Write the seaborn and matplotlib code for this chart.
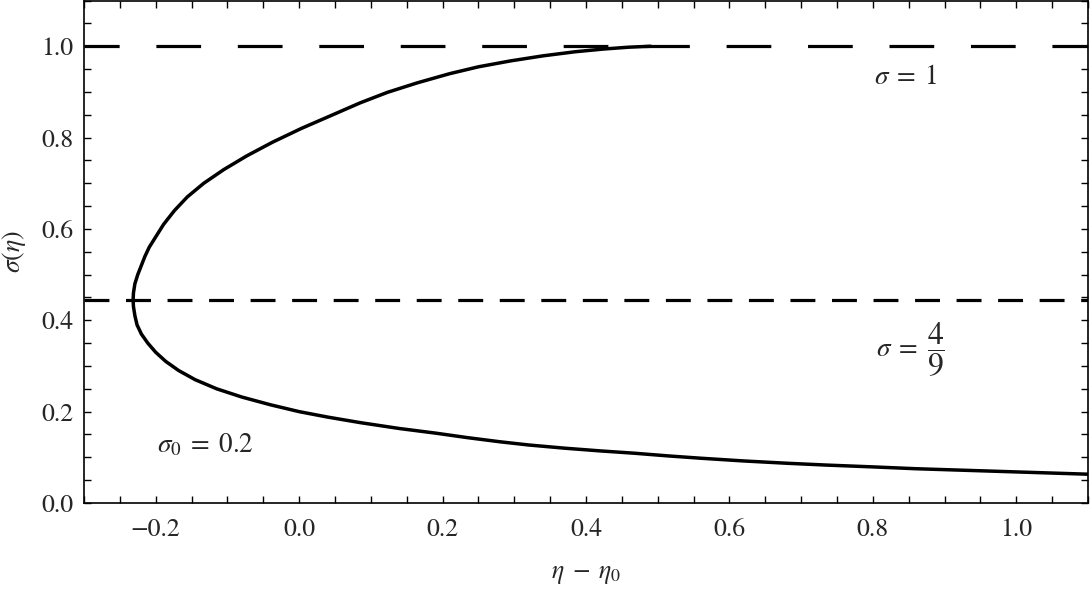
import numpy as np
import pandas as pd
import matplotlib
matplotlib.use("Agg")
import matplotlib.pyplot as plt
from matplotlib.ticker import MultipleLocator, FuncFormatter
import seaborn as sns

# ---- data ----
sigma = [0.063, 0.066, 0.069, 0.072, 0.075, 0.079, 0.083, 0.087, 0.092, 0.098,
         0.103, 0.109, 0.114, 0.120, 0.127, 0.134, 0.143, 0.153, 0.163, 0.176,
         0.188, 0.200, 0.215, 0.232, 0.250, 0.270, 0.290, 0.310, 0.330, 0.350,
         0.370, 0.390, 0.410, 0.430, 0.444, 0.460, 0.480, 0.500, 0.520, 0.540,
         0.560, 0.585, 0.610, 0.640, 0.670, 0.700, 0.730, 0.760, 0.790, 0.820,
         0.850, 0.876, 0.899, 0.920, 0.940, 0.955, 0.968, 0.979, 0.988, 0.994,
         0.998, 1.000]
eta = [1.100, 1.040, 0.980, 0.920, 0.860, 0.800, 0.735, 0.680, 0.620, 0.560,
       0.515, 0.467, 0.420, 0.370, 0.320, 0.280, 0.235, 0.190, 0.140, 0.085,
       0.040, 0.000, -0.040, -0.080, -0.115, -0.145, -0.168, -0.186, -0.200, -0.211,
       -0.220, -0.226, -0.229, -0.231, -0.2315, -0.231, -0.229, -0.225, -0.220, -0.215,
       -0.209, -0.199, -0.189, -0.174, -0.156, -0.133, -0.105, -0.073, -0.037, 0.003,
       0.047, 0.085, 0.123, 0.165, 0.210, 0.250, 0.295, 0.340, 0.385, 0.425,
       0.460, 0.490]
h_levels = [1.0, 4.0 / 9.0]
annotations = [r"$\sigma\;=\;1$", r"$\sigma_0\;=\;0.2$"]
annot_pos = [(0.846, 0.932), (-0.131, 0.127)]
frac_lhs = r"$\sigma\;=$"
frac_rhs = r"$\dfrac{4}{9}$"
frac_lhs_pos = (0.863, 0.337)
frac_rhs_pos = (0.876, 0.335)
xlim = (-0.3, 1.1)
ylim = (0.0, 1.1)

df = pd.DataFrame({"eta": eta, "sigma": sigma})

sns.set_style("ticks")
plt.rcParams["font.family"] = ["STIXGeneral", "DejaVu Serif"]
plt.rcParams["mathtext.fontset"] = "stix"
plt.rcParams["axes.unicode_minus"] = True

fig, ax = plt.subplots(figsize=(10.92, 5.9), dpi=100)
fig.subplots_adjust(left=0.0769, right=0.9963, top=0.999, bottom=0.1475)

sns.lineplot(data=df, x="eta", y="sigma", sort=False, estimator=None,
             color="black", linewidth=2.5, ax=ax)

ax.axhline(h_levels[0], color="black", linewidth=2.3,
           linestyle=(3.0, (14.0, 11.5)))
ax.axhline(h_levels[1], color="black", linewidth=2.3,
           linestyle=(0.0, (7.8, 5.2)))

fs = 18.5
for txt, (xx, yy) in zip(annotations, annot_pos):
    ax.text(xx, yy, txt, fontsize=fs + 1, ha="center", va="center")
ax.text(frac_lhs_pos[0], frac_lhs_pos[1], frac_lhs, fontsize=fs + 1,
        ha="right", va="center")
ax.text(frac_rhs_pos[0], frac_rhs_pos[1], frac_rhs, fontsize=(fs + 1) * 1.17,
        ha="left", va="center")


def fmt(v, pos):
    if abs(v) < 1e-9:
        v = 0.0
    return f"{v:.1f}".replace("-", "\u2212")


ax.set_xlim(*xlim)
ax.set_ylim(*ylim)
ax.xaxis.set_major_locator(MultipleLocator(0.2))
ax.xaxis.set_minor_locator(MultipleLocator(0.05))
ax.yaxis.set_major_locator(MultipleLocator(0.2))
ax.yaxis.set_minor_locator(MultipleLocator(0.05))
ax.xaxis.set_major_formatter(FuncFormatter(fmt))
ax.yaxis.set_major_formatter(FuncFormatter(fmt))

ax.tick_params(which="both", direction="in", top=True, right=True,
               length=5, width=1.0, labelsize=fs, color="black")
ax.tick_params(axis="x", which="major", pad=11)
ax.tick_params(axis="y", which="major", pad=7.5)
for sp in ax.spines.values():
    sp.set_linewidth(1.2)
    sp.set_color("black")

ax.set_xlabel(r"$\eta\;-\;\eta_0$", fontsize=fs, labelpad=14)
ax.set_ylabel(r"$\sigma(\eta)$", fontsize=fs, labelpad=10)

fig.savefig("out.png", dpi=100)
